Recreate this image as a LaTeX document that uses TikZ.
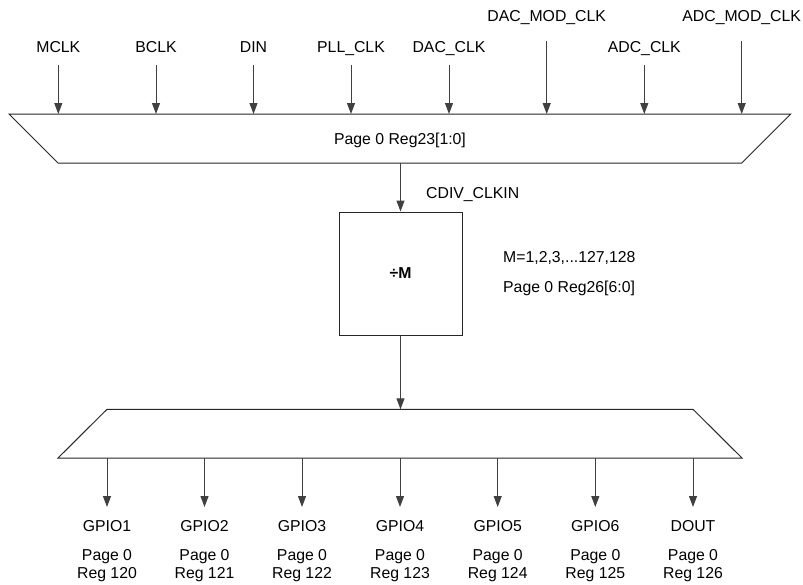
\documentclass[tikz,border=0pt]{standalone}
\usepackage{fontspec}
\setmainfont{Liberation Sans}
\usetikzlibrary{arrows.meta}
\begin{document}
\begin{tikzpicture}[x=1pt,y=-1pt,
  wire/.style={draw=black!75, line width=1pt, -{Triangle[length=11pt,width=8pt]}},
  edge/.style={draw=black!85, line width=1pt, line join=miter},
  lbl/.style={font=\fontsize{15.8}{18.3}\selectfont, inner sep=0pt, anchor=base, align=center},
  lblw/.style={lbl, anchor=base west, align=left}]
\useasboundingbox (0,0) rectangle (803,584);

% ---- top multiplexer
\coordinate (tmA) at (9,114);
\coordinate (tmB) at (790.7,114);
\coordinate (tmC) at (741.7,163);
\coordinate (tmD) at (58,163);
\draw[edge] (tmA) -- (tmB) -- (tmC) -- (tmD) -- cycle;
\node[lbl] (tmsel) at (400,144) {Page 0 Reg23[1:0]};

% ---- inputs
\foreach \name/\x/\ly/\sy [count=\i] in {MCLK/58.3/52.7/65, BCLK/156/52.7/65, DIN/253.5/52.7/65,
    PLL\_CLK/351/52.7/65, DAC\_CLK/449/52.7/65, DAC\_MOD\_CLK/546.7/21/41,
    ADC\_CLK/644.3/52.7/65, ADC\_MOD\_CLK/741.7/21/41} {
  \node[lbl] (in\i) at (\x,\ly) {\name};
  \coordinate (in\i s) at (\x,\sy);
  \coordinate (in\i e) at (\x,114);
  \draw[wire] (in\i s) -- (in\i e);
}

% ---- divider
\node[edge, minimum width=123pt, minimum height=123pt, inner sep=0pt,
      font=\fontsize{15.8}{19}\selectfont\bfseries] (div) at (400.5,273.5) {÷M};
\coordinate (cdivs) at (400.5,163);
\draw[wire] (cdivs) -- (div.north);
\node[lblw] (cdivl) at (426,198.8) {CDIV\_CLKIN};
\node[lblw] (mrange) at (503,262) {M=1,2,3,...127,128};
\node[lblw] (mreg) at (503,292.7) {Page 0 Reg26[6:0]};

% ---- bottom multiplexer
\coordinate (bmA) at (107,409.3);
\coordinate (bmB) at (693,409.3);
\coordinate (bmC) at (742,458);
\coordinate (bmD) at (58,458);
\draw[edge] (bmA) -- (bmB) -- (bmC) -- (bmD) -- cycle;
\coordinate (bmin) at (400.5,409.3);
\draw[wire] (div.south) -- (bmin);

% ---- outputs
\foreach \name/\reg/\x [count=\i] in {GPIO1/120/107, GPIO2/121/204.5, GPIO3/122/302,
    GPIO4/123/400, GPIO5/124/497.7, GPIO6/125/595.3, DOUT/126/693} {
  \coordinate (out\i s) at (\x,458);
  \coordinate (out\i e) at (\x,507);
  \draw[wire] (out\i s) -- (out\i e);
  \node[lbl] (out\i) at (\x,531.7) {\name};
  \node[lbl] (reg\i) at (\x,578.3) {Page 0\\Reg \reg};
}
\end{tikzpicture}
\end{document}
